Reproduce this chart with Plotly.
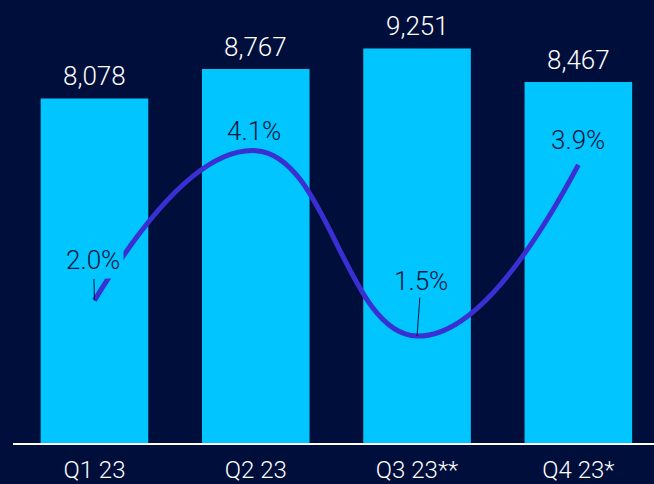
import plotly.graph_objects as go

# Quarterly figures
quarters = ["Q1 23", "Q2 23", "Q3 23**", "Q4 23*"]
volumes = [8078, 8767, 9251, 8467]
growth_pct = [2.0, 4.1, 1.5, 3.9]
volume_labels = ["8,078", "8,767", "9,251", "8,467"]
growth_labels = ["2.0%", "4.1%", "1.5%", "3.9%"]

BG = "#000e3b"
BAR = "#00c5ff"
LINE = "#3a2fd3"
WHITE = "#ffffff"
FONT = "Roboto, Liberation Sans, Arial, sans-serif"
WEIGHT = 300

fig = go.Figure()

fig.add_trace(go.Bar(
    x=quarters, y=volumes, marker=dict(color=BAR, line=dict(width=0)),
    width=0.667, yaxis="y", hoverinfo="skip",
))

fig.add_trace(go.Scatter(
    x=quarters, y=growth_pct, yaxis="y2", mode="lines",
    line=dict(color=LINE, width=5, shape="spline", smoothing=1.3),
    hoverinfo="skip",
))

annotations = []
# value labels above the bars
for q, v, t in zip(quarters, volumes, volume_labels):
    annotations.append(dict(
        x=q, y=v, xref="x", yref="y", text=t, showarrow=False,
        yanchor="bottom", yshift=5,
        font=dict(family=FONT, size=26, color=WHITE, weight=WEIGHT),
    ))

# growth labels, some with leader lines
pct_style = dict(family=FONT, size=26, color="#061540", weight=WEIGHT)
annotations.append(dict(
    x=quarters[0], y=growth_pct[0], xref="x", yref="y2", text=growth_labels[0],
    showarrow=True, arrowhead=0, arrowwidth=1, arrowcolor="#061540",
    ax=-1, ay=-40, bgcolor=BAR, borderpad=3, font=pct_style,
))
annotations.append(dict(
    x=quarters[1], y=growth_pct[1], xref="x", yref="y2", text=growth_labels[1],
    showarrow=False, yanchor="middle", yshift=20, xshift=-2, font=pct_style,
))
annotations.append(dict(
    x=quarters[2], y=growth_pct[2], xref="x", yref="y2", text=growth_labels[2],
    showarrow=True, arrowhead=0, arrowwidth=1, arrowcolor="#061540",
    ax=4, ay=-55, font=pct_style,
))
annotations.append(dict(
    x=quarters[3], y=growth_pct[3], xref="x", yref="y2", text=growth_labels[3],
    showarrow=False, yanchor="middle", yshift=25, font=pct_style,
))

fig.update_layout(
    width=654, height=484,
    margin=dict(l=13, r=0, t=0, b=41),
    paper_bgcolor=BG, plot_bgcolor=BG,
    showlegend=False,
    bargap=0.333,
    xaxis=dict(
        type="category", range=[-0.505, 3.469], automargin=False,
        showline=True, linecolor=WHITE, linewidth=2,
        showgrid=False, zeroline=False, ticks="",
        tickfont=dict(family=FONT, size=24, color=WHITE, weight=WEIGHT),
        ticklabelstandoff=4,
    ),
    yaxis=dict(range=[0, 10387], visible=False, showgrid=False, zeroline=False),
    yaxis2=dict(range=[0, 6.213], overlaying="y", visible=False,
                showgrid=False, zeroline=False),
    annotations=annotations,
)

fig.write_html("out.html")
